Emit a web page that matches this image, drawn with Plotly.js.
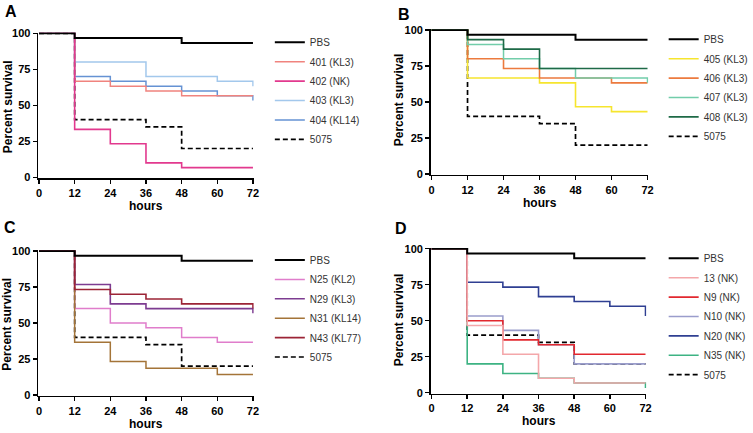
<!DOCTYPE html>
<html><head><meta charset="utf-8">
<script src="https://cdn.plot.ly/plotly-3.0.1.min.js"></script>
<style>html,body{margin:0;padding:0;background:#fff}#chart{width:753px;height:433px}</style>
</head><body><div id="chart"></div>
<script>
// ---- data (percent survival at each time point) ----
const hours = [0, 12, 24, 36, 48, 60, 72];
const xTickVals = [0, 12, 24, 36, 48, 60, 72];
const yTickVals = [0, 25, 50, 75, 100];
const panelLetters = ['A', 'B', 'C', 'D'];

const pbs      = [100, 96.7, 96.7, 96.7, 93.3, 93.3, 93.3];
const s5075    = [100, 40, 40, 35, 20, 20, 20];

// Panel A
const a401 = [100, 66.7, 63.3, 60, 56.7, 56.7, 56.7];
const a402 = [100, 33.3, 23.3, 10, 6.7, 6.7, 6.7];
const a403 = [100, 80, 80, 70, 70, 66.7, 63.3];
const a404 = [100, 70, 66.7, 63.3, 60, 56.7, 53.3];
const namesA = ['PBS', '401 (KL3)', '402 (NK)', '403 (KL3)', '404 (KL14)', '5075'];

// Panel B
const b405 = [100, 66.7, 66.7, 63.3, 46.7, 43.3, 43.3];
const b406 = [100, 80, 73.3, 66.7, 66.7, 63.3, 63.3];
const b407 = [100, 90, 80, 73.3, 66.7, 66.7, 63.3];
const b408 = [100, 93.3, 86.7, 73.3, 73.3, 73.3, 73.3];
const namesB = ['PBS', '405 (KL3)', '406 (KL3)', '407 (KL3)', '408 (KL3)', '5075'];

// Panel C
const cN25 = [100, 60, 50, 46.7, 40, 36.7, 36.7];
const cN29 = [100, 76.7, 63.3, 60, 60, 60, 56.7];
const cN31 = [100, 36.7, 23.3, 18.5, 18.5, 14.3, 14.3];
const cN43 = [100, 73.3, 70, 66.7, 63.3, 63.3, 60];
const namesC = ['PBS', 'N25 (KL2)', 'N29 (KL3)', 'N31 (KL14)', 'N43 (KL77)', '5075'];

// Panel D
const d13  = [100, 46.7, 26.7, 10, 6.7, 6.7, 6.7];
const dN9  = [100, 50, 36.7, 33.3, 26.7, 26.7, 26.7];
const dN10 = [100, 53.3, 43.3, 33.3, 20, 20, 20];
const dN20 = [100, 76.7, 73.3, 66.7, 63.3, 60, 53.3];
const dN35 = [100, 20, 13.3, 10, 6.7, 6.7, 3.3];
const namesD = ['PBS', '13 (NK)', 'N9 (NK)', 'N10 (NK)', 'N20 (NK)', 'N35 (NK)', '5075'];

// ---- styling / layout ----
const FONT = 'Liberation Sans, Arial, Helvetica, sans-serif';
const W = 753, H = 433, PAD = 0.8;
const DASH = '5px,3px';

// pixel geometry of each panel: x of 0 and 72 h, y of 100 % and 0 %
const geom = [
  {x0: 39.3, x1: 255.0, yT: 33.3,  yB: 177.3, legX: 312, legY: 42.3},
  {x0: 435.0, x1: 652.7, yT: 30.0,  yB: 174.0, legX: 709, legY: 39.3},
  {x0: 39.3, x1: 255.0, yT: 251.0, yB: 395.0, legX: 312, legY: 260.0},
  {x0: 435.0, x1: 650.7, yT: 248.7, yB: 392.7, legX: 709, legY: 258.3}
];
const letterPos = [[10.8, 11.7], [407.5, 14.7], [10.5, 227.5], [404, 228.5]];
const yTitlePos = [[7.5, 106.7], [402.5, 100], [7.5, 324.2], [402.5, 320]];

// series per panel: [name, values, color, width, dash, legend rank, draw order]
const panels = [
  [
    [namesA[0], pbs,  '#000000', 2.0, 'solid', 1, 9],
    [namesA[1], a401, '#F0837E', 1.5, 'solid', 2, 3],
    [namesA[2], a402, '#E2398E', 1.6, 'solid', 3, 4],
    [namesA[3], a403, '#A3C8EC', 1.5, 'solid', 4, 1],
    [namesA[4], a404, '#6592D3', 1.5, 'solid', 5, 2],
    [namesA[5], s5075,'#000000', 1.7, DASH,    6, 0]
  ],
  [
    [namesB[0], pbs,  '#000000', 2.0, 'solid', 1, 9],
    [namesB[1], b405, '#F6E52E', 1.6, 'solid', 2, 1],
    [namesB[2], b406, '#EC7A3E', 1.6, 'solid', 3, 2],
    [namesB[3], b407, '#72CDAA', 1.5, 'solid', 4, 3],
    [namesB[4], b408, '#1E6A47', 1.6, 'solid', 5, 4],
    [namesB[5], s5075,'#000000', 1.7, DASH,    6, 0]
  ],
  [
    [namesC[0], pbs,  '#000000', 2.0, 'solid', 1, 9],
    [namesC[1], cN25, '#E07DCB', 1.5, 'solid', 2, 1],
    [namesC[2], cN29, '#7D3C91', 1.6, 'solid', 3, 3],
    [namesC[3], cN31, '#A47438', 1.5, 'solid', 4, 2],
    [namesC[4], cN43, '#9C2436', 1.6, 'solid', 5, 4],
    [namesC[5], s5075,'#000000', 1.7, DASH,    6, 0]
  ],
  [
    [namesD[0], pbs,  '#000000', 2.0, 'solid', 1, 9],
    [namesD[1], d13,  '#F4A7AA', 1.6, 'solid', 2, 6],
    [namesD[2], dN9,  '#E2282F', 1.6, 'solid', 3, 5],
    [namesD[3], dN10, '#9A9DCC', 1.6, 'solid', 4, 4],
    [namesD[4], dN20, '#2F3F92', 1.6, 'solid', 5, 3],
    [namesD[5], dN35, '#3DB383', 1.6, 'solid', 6, 2],
    [namesD[6], s5075,'#000000', 1.7, DASH,    7, 0]
  ]
];

const traces = [];
const layout = {
  width: W, height: H,
  margin: {l: 0, r: 0, t: 0, b: 0},
  paper_bgcolor: '#ffffff', plot_bgcolor: '#ffffff',
  font: {family: FONT, color: '#000'},
  showlegend: true,
  annotations: []
};

geom.forEach((g, i) => {
  const n = i === 0 ? '' : String(i + 1);
  const sx = (g.x1 - g.x0) / 72, sy = (g.yB - g.yT) / 100;
  const axCommon = {
    showgrid: false, zeroline: false, showline: true, linecolor: '#000', linewidth: 1.6,
    ticks: 'outside', ticklen: 4, tickwidth: 1.5, tickcolor: '#000',
    tickfont: {family: FONT, size: 11, weight: 'bold', color: '#000'},
    fixedrange: true
  };
  layout['xaxis' + n] = Object.assign({}, axCommon, {
    domain: [(g.x0 - PAD) / W, (g.x1 + PAD) / W],
    range: [-PAD / sx, 72 + PAD / sx],
    tickvals: xTickVals, ticktext: xTickVals.map(String),
    anchor: 'y' + n
  });
  layout['yaxis' + n] = Object.assign({}, axCommon, {
    domain: [1 - (g.yB + PAD) / H, 1 - (g.yT - PAD) / H],
    range: [-PAD / sy, 100 + PAD / sy],
    tickvals: yTickVals, ticktext: yTickVals.map(String),
    anchor: 'x' + n
  });
  const legName = i === 0 ? 'legend' : 'legend' + (i + 1);
  layout[legName] = {
    x: (g.legX - 40) / W, y: 1 - (g.legY - 14.5) / H,
    xanchor: 'left', yanchor: 'top',
    bgcolor: 'rgba(0,0,0,0)', borderwidth: 0,
    font: {family: FONT, size: 10, color: '#333'},
    traceorder: 'grouped', tracegroupgap: 0.4
  };
  const series = panels[i].slice().sort((a, b) => a[6] - b[6]);
  series.forEach(s => {
    traces.push({
      type: 'scatter', mode: 'lines',
      x: hours, y: s[1], name: s[0],
      line: {shape: 'hv', color: s[2], width: s[3], dash: s[4]},
      xaxis: 'x' + n, yaxis: 'y' + n,
      legend: legName, legendrank: s[5], legendgroup: 'p' + i + '_' + s[5],
      hoverinfo: 'name+x+y'
    });
  });
  // panel letter
  layout.annotations.push({
    text: panelLetters[i], xref: 'paper', yref: 'paper',
    x: letterPos[i][0] / W, y: 1 - letterPos[i][1] / H,
    xanchor: 'center', yanchor: 'middle', showarrow: false,
    font: {family: FONT, size: 16, weight: 'bold', color: '#000'}
  });
  // y title
  layout.annotations.push({
    text: 'Percent survival', xref: 'paper', yref: 'paper', textangle: -90,
    x: yTitlePos[i][0] / W, y: 1 - yTitlePos[i][1] / H,
    xanchor: 'center', yanchor: 'middle', showarrow: false,
    font: {family: FONT, size: 12, weight: 'bold', color: '#000'}
  });
  // x title
  layout.annotations.push({
    text: 'hours', xref: 'paper', yref: 'paper',
    x: ((g.x0 + g.x1) / 2) / W, y: 1 - (g.yB + 28.5) / H,
    xanchor: 'center', yanchor: 'middle', showarrow: false,
    font: {family: FONT, size: 12, weight: 'bold', color: '#000'}
  });
});

Plotly.newPlot('chart', traces, layout, {displayModeBar: false, staticPlot: true});
</script></body></html>
